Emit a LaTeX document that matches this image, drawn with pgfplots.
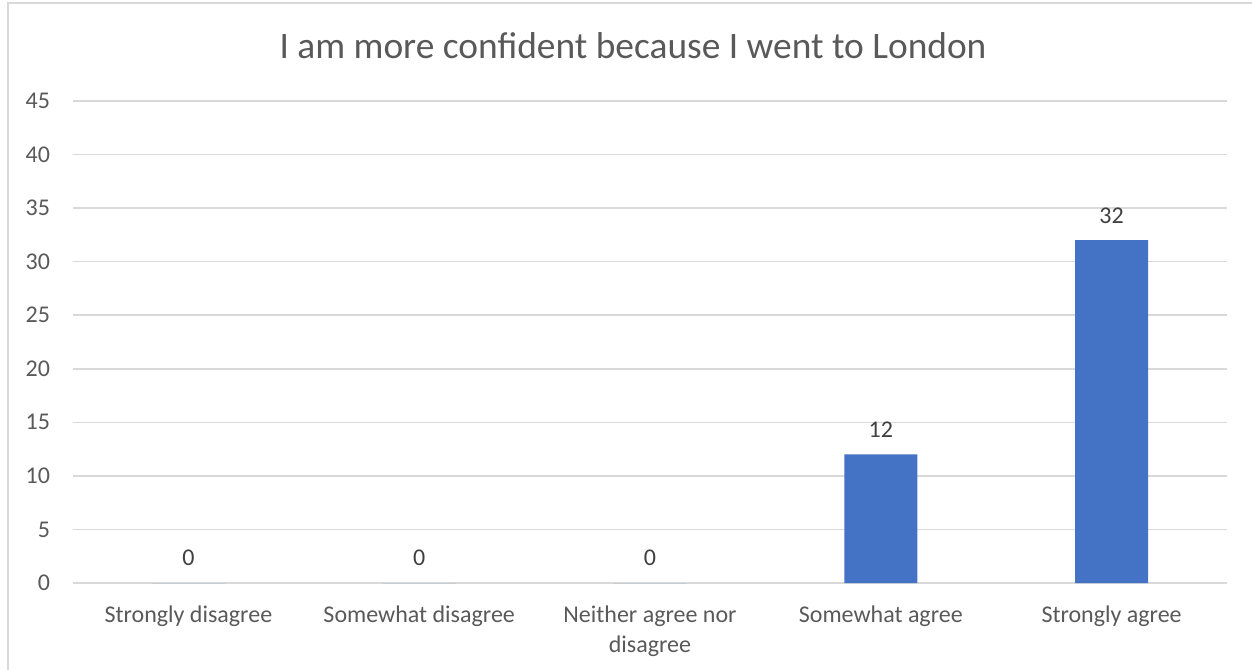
\documentclass[border=0pt]{standalone}
\usepackage{pgfplots}
\pgfplotsset{compat=1.18}
\usepackage{fontspec}
\setmainfont{Carlito}
\definecolor{barblue}{HTML}{4472C4}
\definecolor{txt}{HTML}{595959}
\definecolor{lbl}{HTML}{404040}
\definecolor{gridc}{HTML}{D9D9D9}
\begin{document}
\begin{tikzpicture}
\useasboundingbox (0,0) rectangle (626pt,334.5pt);
\draw[gridc, line width=0.8pt] (4pt,-5pt) -- (4pt,333pt) -- (640pt,333pt);
\node[text=txt, font=\fontsize{18.7}{22}\selectfont] at (316.5pt,311.5pt) {I am more confident because I went to London};
\begin{axis}[
  at={(36.5pt,43pt)}, anchor=south west,
  scale only axis, width=577pt, height=241pt,
  xmin=-0.5, xmax=4.5, ymin=0, ymax=45,
  ytick={0,5,...,45},
  xtick={0,1,2,3,4},
  xticklabels={Strongly disagree,Somewhat disagree,{Neither agree nor\\disagree},Somewhat agree,Strongly agree},
  xticklabel style={align=center, text=txt, font=\fontsize{12}{15}\selectfont, anchor=north, yshift=-8pt},
  yticklabel style={text=txt, font=\fontsize{12}{14}\selectfont, xshift=-8pt},
  /pgf/number format/assume math mode=true,
  axis line style={draw=none},
  major tick length=0pt,
  ymajorgrids, grid style={gridc, line width=0.8pt},
  ybar, bar width=36.5pt,
  nodes near coords,
  nodes near coords style={text=lbl, font=\fontsize{12}{14}\selectfont, yshift=5pt},
  clip=false,
]
\addplot[fill=barblue, draw=none] coordinates {(0,0) (1,0) (2,0) (3,12) (4,32)};
\end{axis}
\end{tikzpicture}
\end{document}
